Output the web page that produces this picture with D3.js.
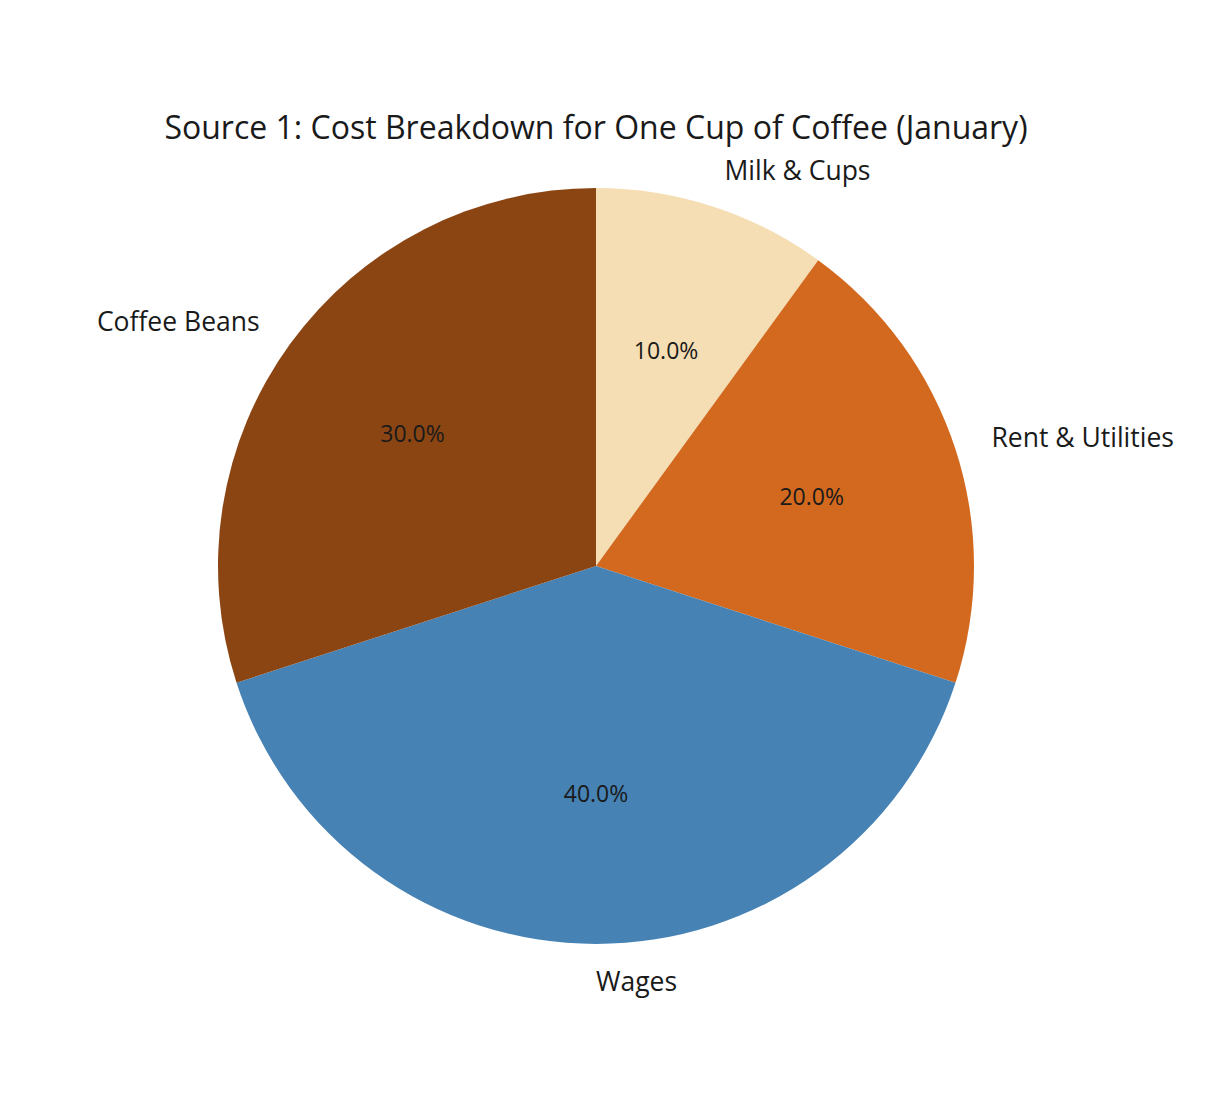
<!DOCTYPE html>
<html>
<head>
<meta charset="utf-8">
<script src="https://cdn.jsdelivr.net/npm/d3@7"></script>
<style>
  body { margin: 0; background: #fff; }
  text { font-family: "Open Sans", "DejaVu Sans", sans-serif; fill: #1a1a1a; }
</style>
</head>
<body>
<div id="chart"></div>
<script>
// chart data
const categories = ["Milk & Cups", "Rent & Utilities", "Wages", "Coffee Beans"];
const shares = [10, 20, 40, 30];
const colors = ["#F5DEB3", "#D2691E", "#4682B4", "#8B4513"];
const title = "Source 1: Cost Breakdown for One Cup of Coffee (January)";

const width = 1222, height = 1100;
const cx = 596, cy = 566, radius = 378;

let svg = d3.select("#chart").append("svg")
    .attr("width", width)
    .attr("height", height);

svg.append("text")
    .attr("x", cx)
    .attr("y", 139)
    .attr("text-anchor", "middle")
    .style("font-size", "32px")
    .text(title);

let data = categories.map((c, i) => ({ name: c, value: shares[i], color: colors[i] }));

// clockwise from 12 o'clock, same order as the picture
let pie = d3.pie().sort(null).value(d => d.value);
let arcs = pie(data);
let total = d3.sum(shares);

let arc = d3.arc().innerRadius(0).outerRadius(radius);

let g = svg.append("g").attr("transform", "translate(" + cx + "," + cy + ")");

g.selectAll("path.slice")
    .data(arcs)
    .enter().append("path")
    .attr("class", "slice")
    .attr("d", arc)
    .attr("fill", d => d.data.color);

// outer labels at 1.1 r
let labelArc = d3.arc().innerRadius(radius * 1.1).outerRadius(radius * 1.1);
g.selectAll("text.label")
    .data(arcs)
    .enter().append("text")
    .attr("class", "label")
    .attr("x", d => labelArc.centroid(d)[0])
    .attr("y", d => labelArc.centroid(d)[1] - 1)
    .attr("dominant-baseline", "central")
    .attr("text-anchor", d => (d.startAngle + d.endAngle) / 2 <= Math.PI + 1e-9 ? "start" : "end")
    .style("font-size", "26.5px")
    .text(d => d.data.name);

// percentages at 0.6 r
let pctArc = d3.arc().innerRadius(radius * 0.6).outerRadius(radius * 0.6);
g.selectAll("text.pct")
    .data(arcs)
    .enter().append("text")
    .attr("class", "pct")
    .attr("x", d => pctArc.centroid(d)[0])
    .attr("y", d => pctArc.centroid(d)[1])
    .attr("dominant-baseline", "central")
    .attr("text-anchor", "middle")
    .style("font-size", "23px")
    .text(d => (d.data.value / total * 100).toFixed(1) + "%");
</script>
</body>
</html>
